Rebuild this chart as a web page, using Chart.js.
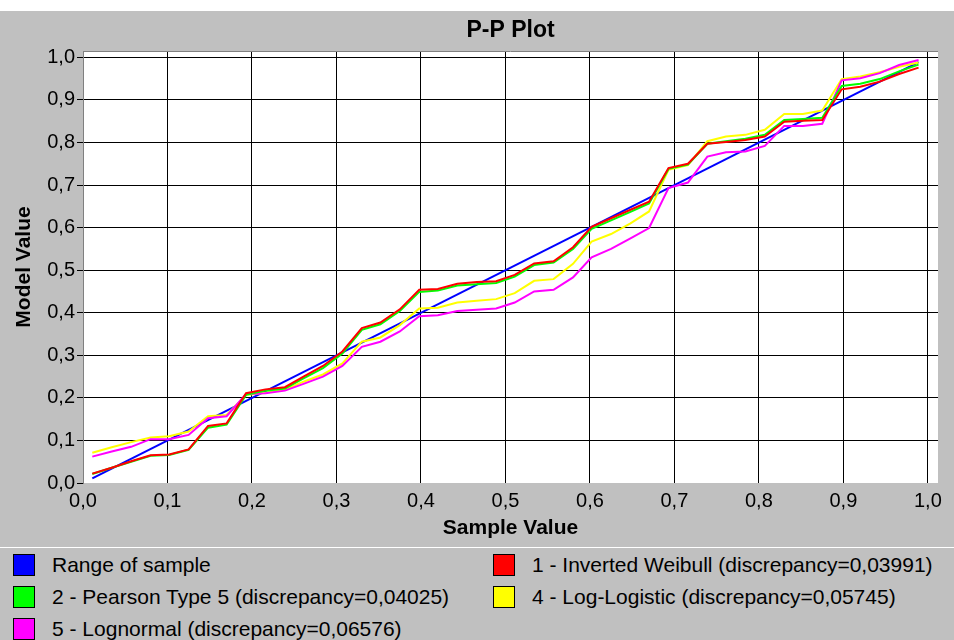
<!DOCTYPE html>
<html>
<head>
<meta charset="utf-8">
<script src="https://cdn.jsdelivr.net/npm/chart.js@4.4.0/dist/chart.umd.min.js"></script>
<style>
    html, body { margin: 0; padding: 0; background: #fff; }
    #wrap { position: absolute; left: 0; top: 11px; width: 954px; height: 629px; background: #c0c0c0; }
    #chartCanvas { position: absolute; left: 0; top: 0; }
    #sep { position: absolute; left: 0; top: 536px; width: 954px; height: 1px; background: #fff; }
    #legend { position: absolute; left: 0; top: 537px; width: 954px; height: 92px;
              font-family: "Liberation Sans", Arial, sans-serif; font-size: 21px; color: #000; }
    .item { position: absolute; height: 22px; line-height: 22px; white-space: nowrap; }
    .sw { position: absolute; left: 0; top: 0; width: 20px; height: 20px; border: 1px solid #000; }
    .lbl { position: absolute; left: 39px; top: 0; }
</style>
</head>
<body>
<div id="wrap">
    <canvas id="chartCanvas" width="954" height="536"></canvas>
    <div id="sep"></div>
    <div id="legend"></div>
</div>
<script>
//Sample positions (x) of the P-P plot
const sampleX = [0.011, 0.034, 0.057, 0.080, 0.102, 0.125, 0.148, 0.170, 0.193, 0.216, 0.239,
    0.261, 0.284, 0.307, 0.330, 0.352, 0.375, 0.398, 0.420, 0.443, 0.466, 0.489,
    0.511, 0.534, 0.557, 0.580, 0.602, 0.625, 0.648, 0.670, 0.693, 0.716, 0.739,
    0.761, 0.784, 0.807, 0.830, 0.852, 0.875, 0.898, 0.920, 0.943, 0.966, 0.989];

//Range of sample (diagonal)
const rangeX = [0.011, 0.989];
const rangeY = [0.011, 0.989];

//Model values for each fitted distribution
const invWeibull = [0.022, 0.036, 0.051, 0.065, 0.067, 0.079, 0.134, 0.140, 0.211, 0.220, 0.225,
    0.250, 0.275, 0.309, 0.364, 0.377, 0.408, 0.454, 0.456, 0.468, 0.472, 0.474,
    0.489, 0.516, 0.521, 0.554, 0.602, 0.622, 0.642, 0.661, 0.740, 0.750, 0.797,
    0.801, 0.806, 0.814, 0.849, 0.851, 0.853, 0.925, 0.931, 0.943, 0.961, 0.976];
const pearson5 = [0.021, 0.036, 0.050, 0.064, 0.066, 0.078, 0.130, 0.137, 0.207, 0.217, 0.222,
    0.246, 0.270, 0.304, 0.360, 0.373, 0.404, 0.449, 0.452, 0.464, 0.467, 0.470,
    0.485, 0.512, 0.518, 0.550, 0.597, 0.617, 0.637, 0.657, 0.738, 0.748, 0.797,
    0.803, 0.809, 0.818, 0.853, 0.855, 0.858, 0.933, 0.938, 0.949, 0.967, 0.983];
const logLogistic = [0.071, 0.084, 0.096, 0.107, 0.110, 0.121, 0.157, 0.160, 0.207, 0.212, 0.219,
    0.238, 0.255, 0.281, 0.332, 0.342, 0.371, 0.410, 0.412, 0.424, 0.428, 0.432,
    0.446, 0.475, 0.479, 0.515, 0.567, 0.585, 0.610, 0.638, 0.736, 0.747, 0.803,
    0.814, 0.818, 0.830, 0.867, 0.867, 0.875, 0.949, 0.955, 0.965, 0.978, 0.988];
const lognormal = [0.062, 0.074, 0.085, 0.103, 0.103, 0.113, 0.152, 0.157, 0.209, 0.211, 0.217,
    0.233, 0.250, 0.275, 0.320, 0.332, 0.356, 0.392, 0.394, 0.404, 0.407, 0.410,
    0.424, 0.450, 0.454, 0.483, 0.530, 0.550, 0.575, 0.599, 0.693, 0.706, 0.767,
    0.777, 0.779, 0.792, 0.839, 0.839, 0.844, 0.946, 0.951, 0.963, 0.982, 0.994];

//Tick values for both axes
const tickValues = [0, 0.1, 0.2, 0.3, 0.4, 0.5, 0.6, 0.7, 0.8, 0.9, 1.0];

//Legend entries (two columns in the picture)
const legendItems = [
    { text: 'Range of sample', color: '#0000ff', col: 0, row: 0 },
    { text: '1 - Inverted Weibull (discrepancy=0,03991)', color: '#ff0000', col: 1, row: 0 },
    { text: '2 - Pearson Type 5 (discrepancy=0,04025)', color: '#00ff00', col: 0, row: 1 },
    { text: '4 - Log-Logistic (discrepancy=0,05745)', color: '#ffff00', col: 1, row: 1 },
    { text: '5 - Lognormal (discrepancy=0,06576)', color: '#ff00ff', col: 0, row: 2 }
];

const FONT = '"Liberation Sans", Arial, sans-serif';

function toPoints(xs, ys) {
    return xs.map((x, i) => ({ x: x, y: ys[i] }));
}

//Formats 0.1 as 0,1
function fmt(v) {
    return Number(v).toFixed(1).replace('.', ',');
}

function lineSet(label, xs, ys, color, order) {
    return {
        label: label,
        data: toPoints(xs, ys),
        borderColor: color,
        backgroundColor: color,
        borderWidth: 2,
        pointRadius: 0,
        tension: 0,
        fill: false,
        order: order
    };
}

//White plot area with thin grey top edge
const plotBackground = {
    id: 'plotBackground',
    beforeDraw(chart) {
        const { ctx, chartArea: a } = chart;
        ctx.save();
        ctx.fillStyle = '#ffffff';
        ctx.fillRect(a.left, a.top, a.right - a.left, a.bottom - a.top);
        ctx.restore();
    },
    afterDraw(chart) {
        const { ctx, chartArea: a } = chart;
        ctx.save();
        ctx.strokeStyle = '#808080';
        ctx.lineWidth = 1;
        ctx.beginPath();
        ctx.moveTo(a.left, a.top + 0.5);
        ctx.lineTo(a.right, a.top + 0.5);
        ctx.stroke();
        ctx.restore();
    }
};

function setTicks(scale) {
    scale.ticks = tickValues.map(v => ({ value: v }));
}

const gridColor = (c) => (c.tick && c.tick.value === 0) ? 'rgba(0,0,0,0)' : '#000000';

const ctx = document.getElementById('chartCanvas');
window.myChart = new Chart(ctx, {
    type: 'line',
    data: {
        datasets: [
            lineSet('Range of sample', rangeX, rangeY, '#0000ff', 4),
            lineSet('1 - Inverted Weibull (discrepancy=0,03991)', sampleX, invWeibull, '#ff0000', 0),
            lineSet('2 - Pearson Type 5 (discrepancy=0,04025)', sampleX, pearson5, '#00ff00', 1),
            lineSet('4 - Log-Logistic (discrepancy=0,05745)', sampleX, logLogistic, '#ffff00', 3),
            lineSet('5 - Lognormal (discrepancy=0,06576)', sampleX, lognormal, '#ff00ff', 2)
        ]
    },
    options: {
        responsive: false,
        devicePixelRatio: 1,
        animation: false,
        layout: { padding: { left: 0, right: 16, top: 0, bottom: 0 } },
        plugins: {
            legend: { display: false },
            tooltip: { enabled: false },
            title: {
                display: true,
                fullSize: false,
                text: 'P-P Plot',
                color: '#000',
                font: { family: FONT, size: 23, weight: 'bold', lineHeight: 1.2 },
                padding: { top: 6, bottom: 6.4 }
            }
        },
        scales: {
            x: {
                type: 'linear',
                min: 0,
                max: 1.012,
                afterBuildTicks: setTicks,
                afterFit(scale) { scale.height = 64; },
                grid: { color: gridColor, drawTicks: false, lineWidth: 1 },
                border: { display: false },
                ticks: {
                    color: '#000',
                    padding: 6,
                    maxRotation: 0,
                    font: { family: FONT, size: 20 },
                    callback: (v) => fmt(v)
                },
                title: {
                    display: true,
                    text: 'Sample Value',
                    color: '#000',
                    font: { family: FONT, size: 21, weight: 'bold', lineHeight: 1.2 },
                    padding: { top: 0, bottom: 6.4 }
                }
            },
            y: {
                type: 'linear',
                min: 0,
                max: 1.015,
                afterBuildTicks: setTicks,
                afterFit(scale) { scale.width = 83; },
                grid: { color: gridColor, tickColor: '#000', tickLength: 6, lineWidth: 1 },
                border: { display: true, color: '#808080' },
                ticks: {
                    color: '#000',
                    padding: 2,
                    font: { family: FONT, size: 20 },
                    callback: (v) => fmt(v)
                },
                title: {
                    display: true,
                    text: 'Model Value',
                    color: '#000',
                    font: { family: FONT, size: 21, weight: 'bold', lineHeight: 1.2 },
                    padding: { top: 11.4, bottom: 0 }
                }
            }
        }
    },
    plugins: [plotBackground]
});

//Builds the two-column legend under the chart
const legend = document.getElementById('legend');
legendItems.forEach((it) => {
    const div = document.createElement('div');
    div.className = 'item';
    div.style.left = (it.col === 0 ? 13 : 493) + 'px';
    div.style.top = (6 + it.row * 32) + 'px';
    const sw = document.createElement('span');
    sw.className = 'sw';
    sw.style.background = it.color;
    const lbl = document.createElement('span');
    lbl.className = 'lbl';
    lbl.textContent = it.text;
    div.appendChild(sw);
    div.appendChild(lbl);
    legend.appendChild(div);
});
</script>
</body>
</html>
